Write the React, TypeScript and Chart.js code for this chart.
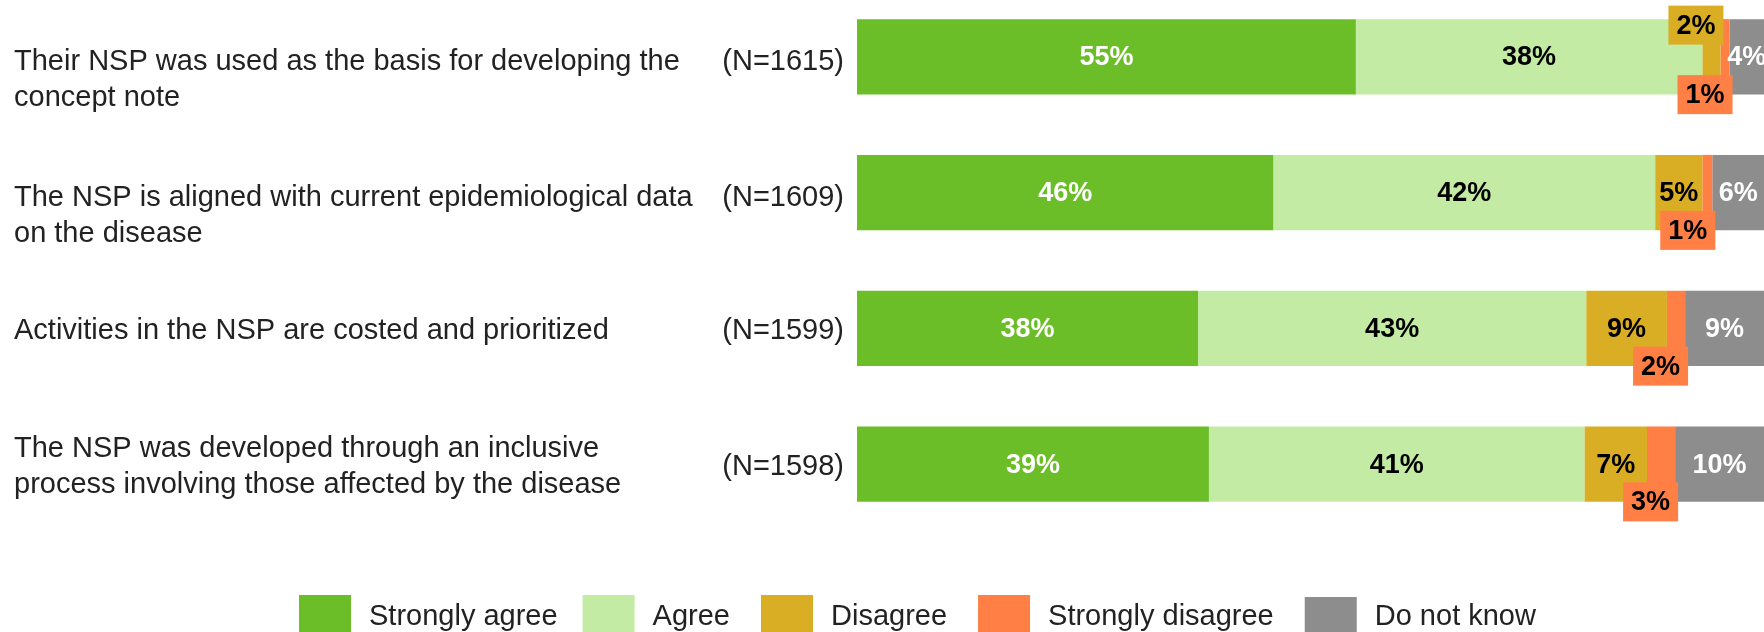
import React, { useEffect, useRef } from "react";
import { Chart, registerables } from "chart.js";

Chart.register(...registerables);

// ---------- data ----------
const questions: string[][] = [
  ["Their NSP was used as the basis for developing the", "concept note"],
  ["The NSP is aligned with current epidemiological data", "on the disease"],
  ["Activities in the NSP are costed and prioritized"],
  ["The NSP was developed through an inclusive", "process involving those affected by the disease"],
];
const sampleSizes = [1615, 1609, 1599, 1598];
const seriesNames = ["Strongly agree", "Agree", "Disagree", "Strongly disagree", "Do not know"];
const stronglyAgree = [55.0, 45.9, 37.6, 38.8];
const agree = [38.2, 42.1, 42.8, 41.4];
const disagree = [2.0, 5.2, 8.9, 6.9];
const stronglyDisagree = [1.0, 1.1, 2.0, 3.1];
const doNotKnow = [3.8, 5.7, 8.7, 9.8];

// ---------- styles ----------
const colors = ["#6BBE27", "#C4EBA4", "#D9AE24", "#FF7F45", "#8D8D8D"];
const labelColors = ["#FFFFFF", "#000000", "#000000", "#000000", "#FFFFFF"];
const calloutSide: (string | null)[] = [null, null, "top", "bottom", null];
const firstLineAnchored = [true, true, false, false];
const FONT = "'Liberation Sans', Arial, Helvetica, sans-serif";
const CANVAS_W = 1764;
const CANVAS_H = 700;
const SHIFT = 30;

const labelsPlugin = {
  id: "customLabels",
  afterDatasetsDraw(chart: any) {
    const ctx = chart.ctx as CanvasRenderingContext2D;
    ctx.save();
    ctx.font = `bold 27px ${FONT}`;
    ctx.textAlign = "center";
    ctx.textBaseline = "middle";
    const callouts: any[] = [];
    chart.data.datasets.forEach((ds: any, di: number) => {
      const meta = chart.getDatasetMeta(di);
      meta.data.forEach((el: any, i: number) => {
        const p = el.getProps(["x", "y", "base", "height"], true);
        const v = ds.data[i];
        const txt = Math.round(v) + "%";
        const left = Math.min(p.x, p.base);
        const right = Math.max(p.x, p.base);
        const w = right - left;
        const tw = ctx.measureText(txt).width;
        const side = calloutSide[di];
        if (side === "bottom" || (side === "top" && w < tw + 4)) {
          callouts.push({ txt, right, y: p.y, h: p.height, side, color: ds.backgroundColor, tw });
        } else {
          ctx.fillStyle = labelColors[di];
          ctx.fillText(txt, (left + right) / 2, p.y + 1);
        }
      });
    });
    callouts.forEach((c) => {
      const bw = c.tw + 16;
      const bh = 39;
      const bx = c.right + 3 - bw;
      const cy = c.side === "bottom" ? c.y + c.h / 2 : c.y - c.h / 2 + 6;
      ctx.fillStyle = c.color;
      ctx.fillRect(bx, cy - bh / 2, bw, bh);
      ctx.fillStyle = "#000000";
      ctx.fillText(c.txt, bx + bw / 2, cy + 1);
    });
    ctx.restore();
  },
  afterDraw(chart: any) {
    const ctx = chart.ctx as CanvasRenderingContext2D;
    const yScale = chart.scales.y;
    ctx.save();
    ctx.font = `29px ${FONT}`;
    ctx.fillStyle = "#222222";
    ctx.textBaseline = "middle";
    const lineH = 36;
    questions.forEach((lines, i) => {
      const yc = yScale.getPixelForValue(i);
      ctx.textAlign = "left";
      lines.forEach((line, k) => {
        const y = firstLineAnchored[i]
          ? yc + 5 + k * lineH
          : yc + 3 + (k - (lines.length - 1) / 2) * lineH;
        ctx.fillText(line, 14, y);
      });
      ctx.textAlign = "right";
      ctx.fillText(`(N=${sampleSizes[i]})`, 844, yc + (firstLineAnchored[i] ? 5 : 3));
    });

    // legend
    let x = 299;
    const boxTop = 595 + SHIFT;
    const baseline = 625 + SHIFT;
    ctx.textAlign = "left";
    ctx.textBaseline = "alphabetic";
    chart.data.datasets.forEach((ds: any, di: number) => {
      ctx.fillStyle = ds.backgroundColor;
      ctx.fillRect(x, boxTop + (di === 4 ? 2 : 0), 52, 42);
      ctx.fillStyle = "#222222";
      const tx = x + 52 + 18;
      ctx.fillText(ds.label, tx, baseline);
      x = tx + ctx.measureText(ds.label).width + (di === 0 ? 25 : 31);
    });
    ctx.restore();
  },
};

export default function App() {
  const ref = useRef<HTMLCanvasElement | null>(null);
  useEffect(() => {
    if (!ref.current) return;
    const seriesValues = [stronglyAgree, agree, disagree, stronglyDisagree, doNotKnow];
    const chart = new Chart(ref.current, {
      type: "bar",
      data: {
        labels: questions.map((q) => q.join(" ")),
        datasets: seriesValues.map((vals, i) => ({
          label: seriesNames[i],
          data: vals,
          backgroundColor: colors[i],
          borderWidth: 0,
          categoryPercentage: 1,
          barPercentage: 0.556,
        })),
      },
      options: {
        indexAxis: "y",
        animation: false,
        responsive: false,
        devicePixelRatio: 1,
        layout: { padding: { left: 857, right: 0, top: 19, bottom: CANVAS_H - 562 } },
        scales: {
          x: { stacked: true, min: 0, max: 100, display: false },
          y: { stacked: true, display: false },
        },
        plugins: {
          legend: { display: false },
          tooltip: { enabled: false },
        },
      },
      plugins: [labelsPlugin],
    });
    return () => chart.destroy();
  }, []);
  return (
    <div
      style={{
        position: "fixed",
        left: 0,
        top: 0,
        width: CANVAS_W,
        height: 632,
        overflow: "hidden",
        background: "#ffffff",
      }}
    >
      <canvas
        ref={ref}
        width={CANVAS_W}
        height={CANVAS_H}
        style={{ position: "absolute", left: 0, top: -SHIFT, width: CANVAS_W, height: CANVAS_H, display: "block" }}
      />
    </div>
  );
}
